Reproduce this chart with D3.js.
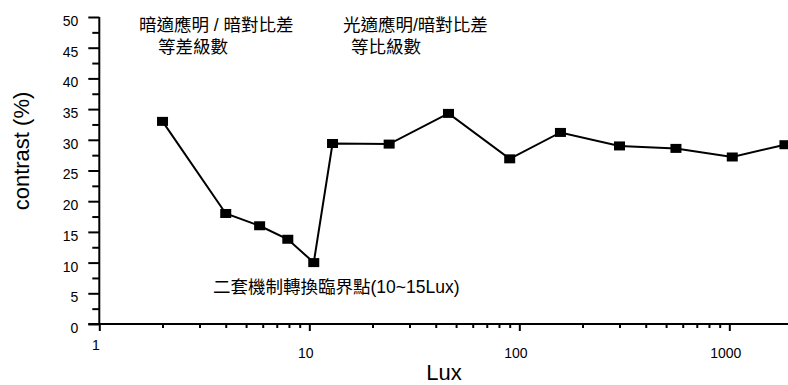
<!DOCTYPE html>
<html>
<head>
<meta charset="utf-8">
<script src="https://cdn.jsdelivr.net/npm/d3@7"></script>
<style>
  html, body { margin: 0; padding: 0; background: #fff; }
  svg { display: block; }
  text { font-family: "Liberation Sans", Arial, "Noto Sans CJK TC", sans-serif; fill: #000; }
</style>
</head>
<body>
<svg id="chart" width="788" height="385"></svg>
<script>
// Illuminance (Lux) and measured contrast (%)
const lux      = [2, 4, 5.8, 7.9, 10.5, 12.9, 24, 46, 90, 157, 300, 557, 1033, 1840];
const contrast = [33, 18, 16, 13.8, 10, 29.4, 29.3, 34.3, 26.9, 31.2, 29, 28.6, 27.2, 29.2];

const yMajorTicks = [0, 5, 10, 15, 20, 25, 30, 35, 40, 45, 50];
const yMinorTicks = [2.5, 7.5, 12.5, 17.5, 22.5, 27.5, 32.5, 37.5, 42.5, 47.5];
const xMajorTicks = [1, 10, 100, 1000];
const xMinorTicks = [2, 3, 4, 5, 6, 7, 8, 9, 20, 30, 40, 50, 60, 70, 80, 90,
                     200, 300, 400, 500, 600, 700, 800, 900];

const titleLeft  = ["暗適應明 / 暗對比差", "等差級數"];
const titleRight = ["光適應明/暗對比差", "等比級數"];
const noteText   = "二套機制轉換臨界點(10~15Lux)";

const svg = d3.select("#chart");
const W = 788;
const plotLeft = 99.3, plotTop = 17, plotBottom = 324;

const x = d3.scaleLog().domain([1, 1903]).range([plotLeft, W]);
const y = d3.scaleLinear().domain([0, 50]).range([plotBottom, plotTop]);

// Minor ticks
svg.append("g")
  .attr("transform", `translate(0,${plotBottom})`)
  .call(d3.axisBottom(x).tickValues(xMinorTicks).tickSize(4).tickFormat(""))
  .call(g => g.select(".domain").remove())
  .call(g => g.selectAll("line").attr("stroke-width", 2));

svg.append("g")
  .attr("transform", `translate(${plotLeft},0)`)
  .call(d3.axisLeft(y).tickValues(yMinorTicks).tickSize(7).tickFormat(""))
  .call(g => g.select(".domain").remove())
  .call(g => g.selectAll("line").attr("stroke-width", 2));

// Major x ticks with labels
const xAxis = svg.append("g")
  .attr("transform", `translate(0,${plotBottom})`)
  .call(d3.axisBottom(x).tickValues(xMajorTicks).tickSize(7).tickPadding(0)
        .tickFormat(d3.format("d")))
  .call(g => g.select(".domain").remove())
  .call(g => g.selectAll("line").attr("stroke-width", 2));
xAxis.selectAll("text")
  .attr("font-size", 14)
  .attr("font-family", "Liberation Sans, Arial, sans-serif")
  .attr("dy", null)
  .attr("x", -4)
  .attr("y", d => d === 1 ? 26 : 34);

// Major y ticks with labels
const yAxis = svg.append("g")
  .attr("transform", `translate(${plotLeft},0)`)
  .call(d3.axisLeft(y).tickValues(yMajorTicks).tickSize(11).tickPadding(10))
  .call(g => g.select(".domain").remove())
  .call(g => g.selectAll("line").attr("stroke-width", 2));
yAxis.selectAll("text")
  .attr("font-size", 14)
  .attr("font-family", "Liberation Sans, Arial, sans-serif")
  .attr("dy", "0.32em")
  .attr("y", 4);

// Axis lines
svg.append("line")
  .attr("x1", plotLeft).attr("x2", plotLeft)
  .attr("y1", y(50)).attr("y2", y(0))
  .attr("stroke", "#000").attr("stroke-width", 2);
svg.append("line")
  .attr("x1", plotLeft - 11).attr("x2", W)
  .attr("y1", y(0)).attr("y2", y(0))
  .attr("stroke", "#000").attr("stroke-width", 2);

// Axis titles
svg.append("text")
  .attr("x", 444).attr("y", 380)
  .attr("text-anchor", "middle")
  .attr("font-size", 22)
  .text("Lux");
svg.append("text")
  .attr("transform", `translate(29,151) rotate(-90)`)
  .attr("text-anchor", "middle")
  .attr("font-size", 22)
  .text("contrast (%)");

// Data line and square markers
const pts = lux.map((v, i) => [v, contrast[i]]);
svg.append("path")
  .datum(pts)
  .attr("fill", "none")
  .attr("stroke", "#000")
  .attr("stroke-width", 2)
  .attr("d", d3.line().x(d => x(d[0])).y(d => y(d[1])));

const mw = 11, mh = 9;
svg.append("g").selectAll("rect")
  .data(pts)
  .join("rect")
  .attr("x", d => x(d[0]) - mw / 2)
  .attr("y", d => y(d[1]) - mh / 2)
  .attr("width", mw)
  .attr("height", mh)
  .attr("fill", "#000");

// Annotations
const cjk = "Liberation Sans, Arial, Noto Sans CJK TC, sans-serif";
function block(lines, xs, ys) {
  lines.forEach((t, i) => {
    svg.append("text")
      .attr("x", xs[i]).attr("y", ys[i])
      .attr("font-size", 17.5)
      .attr("font-family", cjk)
      .text(t);
  });
}
block(titleLeft, [139, 158], [31, 53]);
block(titleRight, [343, 351], [31, 53]);
block([noteText], [213], [293]);
</script>
</body>
</html>
